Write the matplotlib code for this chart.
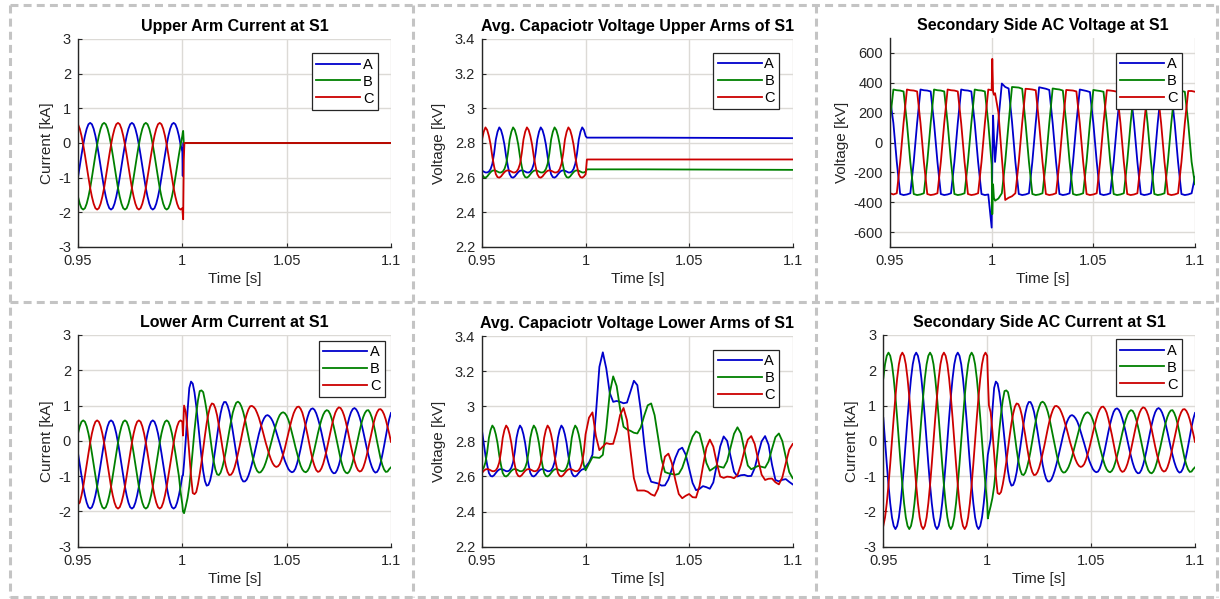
import numpy as np
import matplotlib
matplotlib.use("Agg")
import matplotlib.pyplot as plt
from matplotlib.lines import Line2D

plt.rcParams['font.family'] = ['Liberation Sans', 'DejaVu Sans']
plt.rcParams['axes.unicode_minus'] = False

# ---------------- sampling grids ----------------
t600 = np.linspace(0.95, 1.10, 91)     # 1/600 s steps, index 30 -> 1.0 s (fault)
t1200 = np.linspace(0.95, 1.10, 181)   # 1/1200 s steps, index 60 -> 1.0 s
PRE_FINE = t1200[:61]
PRE_COARSE = t600[:31]
POST_COARSE = t600[31:]
POST_MID = t1200[61::2]

PHASES = ['A', 'B', 'C']
COLORS = ['#0000cc', '#008000', '#cc0000']
X_TICKS = [0.95, 1.0, 1.05, 1.10]
X_TICKLABELS = ['0.95', '1', '1.05', '1.1']

# ---------------- Panel 1: Upper Arm Current [kA] (pre-fault on fine grid) ----------------
UA_A_PRE = [-0.99, -0.67, -0.35, -0.05, 0.21, 0.41, 0.54,
            0.58, 0.54, 0.41, 0.21, -0.05, -0.35, -0.67, -0.99, -1.30, -1.55, -1.75, -1.88,
            -1.92, -1.88, -1.75, -1.55, -1.30, -0.99, -0.67, -0.35, -0.05, 0.21, 0.41, 0.54,
            0.58, 0.54, 0.41, 0.21, -0.05, -0.35, -0.67, -0.99, -1.30, -1.55, -1.75, -1.88,
            -1.92, -1.88, -1.75, -1.55, -1.30, -0.99, -0.67, -0.35, -0.05, 0.21, 0.41, 0.54,
            0.58, 0.54, 0.41, 0.21, -0.05, -0.25]
UA_B_PRE = [-1.55, -1.75, -1.88, -1.92, -1.88, -1.75, -1.55, -1.30, -0.99,
            -0.67, -0.35, -0.05, 0.21, 0.41, 0.54,
            0.58, 0.54, 0.41, 0.21, -0.05, -0.35, -0.67, -0.99, -1.30, -1.55, -1.75, -1.88,
            -1.92, -1.88, -1.75, -1.55, -1.30, -0.99, -0.67, -0.35, -0.05, 0.21, 0.41, 0.54,
            0.58, 0.54, 0.41, 0.21, -0.05, -0.35, -0.67, -0.99, -1.30, -1.55, -1.75, -1.88,
            -1.92, -1.88, -1.75, -1.55, -1.30, -0.99, -0.67, -0.35, -0.05, 0.21]
UA_C_PRE = [0.54, 0.41, 0.21, -0.05, -0.35, -0.67, -0.99, -1.30, -1.55, -1.75, -1.88,
            -1.92, -1.88, -1.75, -1.55, -1.30, -0.99, -0.67, -0.35, -0.05, 0.21, 0.41, 0.54,
            0.58, 0.54, 0.41, 0.21, -0.05, -0.35, -0.67, -0.99, -1.30, -1.55, -1.75, -1.88,
            -1.92, -1.88, -1.75, -1.55, -1.30, -0.99, -0.67, -0.35, -0.05, 0.21, 0.41, 0.54,
            0.58, 0.54, 0.41, 0.21, -0.05, -0.35, -0.67, -0.99, -1.30, -1.55, -1.75, -1.88,
            -1.92, -1.88]
UA_TAIL_T = [1.0002, 1.0004, 1.0007, 1.0010, 1.10]
UA_A_TAIL = [-0.95, 0.0, 0.0, 0.0, 0.0]
UA_B_TAIL = [0.30, 0.35, 0.0, 0.0, 0.0]
UA_C_TAIL = [-2.05, -2.20, -0.50, 0.0, 0.0]

# ---------------- Panel 2: Avg. capacitor voltage, upper arms [kV] (fine grid) ----------------
UC_A_PRE = [2.64, 2.635, 2.63, 2.63, 2.635, 2.65, 2.68, 2.74, 2.82, 2.865,
            2.89, 2.875, 2.84, 2.79, 2.72, 2.665, 2.62, 2.603, 2.60, 2.607, 2.62, 2.632,
            2.64, 2.642, 2.64, 2.635, 2.63, 2.63, 2.635, 2.65, 2.68, 2.74, 2.82, 2.865,
            2.89, 2.875, 2.84, 2.79, 2.72, 2.665, 2.62, 2.603, 2.60, 2.607, 2.62, 2.632,
            2.64, 2.642, 2.64, 2.635, 2.63, 2.63, 2.635, 2.65, 2.68, 2.74, 2.82, 2.865,
            2.89, 2.875, 2.84]
UC_B_PRE = [2.62, 2.603, 2.60, 2.607, 2.62, 2.632, 2.64, 2.642, 2.64, 2.635, 2.63, 2.63,
            2.635, 2.65, 2.68, 2.74, 2.82, 2.865,
            2.89, 2.875, 2.84, 2.79, 2.72, 2.665, 2.62, 2.603, 2.60, 2.607, 2.62, 2.632,
            2.64, 2.642, 2.64, 2.635, 2.63, 2.63, 2.635, 2.65, 2.68, 2.74, 2.82, 2.865,
            2.89, 2.875, 2.84, 2.79, 2.72, 2.665, 2.62, 2.603, 2.60, 2.607, 2.62, 2.632,
            2.64, 2.642, 2.64, 2.635, 2.63, 2.63, 2.635]
UC_C_PRE = [2.82, 2.865,
            2.89, 2.875, 2.84, 2.79, 2.72, 2.665, 2.62, 2.603, 2.60, 2.607, 2.62, 2.632,
            2.64, 2.642, 2.64, 2.635, 2.63, 2.63, 2.635, 2.65, 2.68, 2.74, 2.82, 2.865,
            2.89, 2.875, 2.84, 2.79, 2.72, 2.665, 2.62, 2.603, 2.60, 2.607, 2.62, 2.632,
            2.64, 2.642, 2.64, 2.635, 2.63, 2.63, 2.635, 2.65, 2.68, 2.74, 2.82, 2.865,
            2.89, 2.875, 2.84, 2.79, 2.72, 2.665, 2.62, 2.603, 2.60, 2.607, 2.62]
UC_TAIL_T = [1.0006, 1.027, 1.10]
UC_A_TAIL = [2.831, 2.831, 2.828]
UC_B_TAIL = [2.648, 2.648, 2.645]
UC_C_TAIL = [2.705, 2.705, 2.705]

# ---------------- Panel 3: Secondary side AC voltage [kV] (coarse grid) ----------------
SV_EXTRA_T = [1.0003, 1.0007, 1.0011]
SV_A_PRE = [300, 130, -130, -345, -352, -348, -340, -130, 130, 355, 350, 348,
            342, 130, -130, -345, -352, -348, -340, -130, 130, 355, 350, 348,
            342, 130, -130, -345, -352, -348, -570]
SV_A_EXTRA = [-150, 180, 40]
SV_A_POST = [-130, 150, 395, 372, 362, 140, -130, -345, -352, -348, -340, -130,
             130, 370, 365, 360, 352, 130, -130, -345, -352, -348, -340, -130,
             130, 355, 350, 345, 338, 130, -130, -345, -352, -348, -340, -130,
             130, 350, 348, 345, 340, 130, -130, -345, -352, -348, -340, -130,
             130, 350, 348, 345, 340, 130, -130, -345, -352, -348, -340, -230]
SV_B_PRE = [150, 355, 350, 348, 342, 130, -130, -345, -352, -348, -340, -130,
            130, 355, 350, 348, 342, 130, -130, -345, -352, -348, -340, -130,
            130, 355, 350, 348, 342, 130, -150]
SV_B_EXTRA = [-480, -280, -370]
SV_B_POST = [-390, -375, -340, -130, 130, 372, 370, 368, 360, 130, -130, -345,
             -352, -348, -340, -130, 130, 362, 358, 355, 348, 130, -130, -345,
             -352, -348, -340, -130, 130, 352, 348, 345, 340, 130, -130, -345,
             -352, -348, -340, -130, 130, 350, 348, 345, 340, 130, -130, -345,
             -352, -348, -340, -130, 130, 350, 348, 345, 340, 130, -130, -280]
SV_C_PRE = [-340, -348, -340, -130, 130, 355, 350, 348, 342, 130, -130, -345,
            -352, -348, -340, -130, 130, 355, 350, 348, 342, 130, -130, -345,
            -352, -348, -340, -130, 130, 355, 350]
SV_C_EXTRA = [560, 340, 320]
SV_C_POST = [330, 200, -100, -385, -370, -360, -340, -130, 130, 360, 358, 355,
             350, 130, -130, -345, -352, -348, -340, -130, 130, 352, 350, 348,
             342, 130, -130, -345, -352, -348, -340, -130, 130, 350, 348, 345,
             340, 130, -130, -345, -352, -348, -340, -130, 130, 350, 348, 345,
             340, 130, -130, -345, -352, -348, -340, -130, 130, 345, 345, 340]

# ---------------- Panel 4: Lower Arm Current [kA] ----------------
LA_EXTRA_T = [1.0003]
LA_A_PRE = [-0.35, -0.67, -0.99, -1.30, -1.55, -1.75, -1.88, -1.92, -1.88, -1.75, -1.55,
            -1.30, -0.99, -0.67, -0.35, -0.05, 0.21, 0.41, 0.54,
            0.58, 0.54, 0.41, 0.21, -0.05, -0.35, -0.67, -0.99, -1.30, -1.55, -1.75, -1.88,
            -1.92, -1.88, -1.75, -1.55, -1.30, -0.99, -0.67, -0.35, -0.05, 0.21, 0.41, 0.54,
            0.58, 0.54, 0.41, 0.21, -0.05, -0.35, -0.67, -0.99, -1.30, -1.55, -1.75, -1.88,
            -1.92, -1.88, -1.75, -1.55, -1.30, -0.99]
LA_A_EXTRA = [-0.98]
LA_A_POST = [0.05, 1.50, 1.62, 0.99, 0.03, -0.86, -1.27, -1.12, -0.56, 0.14, 0.78, 1.10,
             1.00, 0.58, -0.04, -0.67, -1.07, -1.15, -0.99, -0.66, -0.24, 0.19, 0.53, 0.71,
             0.70, 0.55, 0.26, -0.07, -0.42, -0.69, -0.86, -0.87, -0.64, -0.23, 0.26, 0.67,
             0.90, 0.88, 0.63, 0.24, -0.22, -0.62, -0.87, -0.91, -0.69, -0.27, 0.23, 0.66,
             0.90, 0.89, 0.66, 0.27, -0.19, -0.59, -0.85, -0.88, -0.63, -0.15, 0.39, 0.79]
LA_A_POST_MID = [-0.62, 0.85, 1.68, 1.37, 0.53, -0.45, -1.14, -1.25, -0.89, -0.22, 0.49, 0.99,
                 1.10, 0.83, 0.28, -0.37, -0.90, -1.15, -1.10, -0.84, -0.46, -0.02, 0.37, 0.64,
                 0.73, 0.64, 0.42, 0.10, -0.25, -0.57, -0.80, -0.89, -0.79, -0.45, 0.02, 0.48,
                 0.82, 0.92, 0.78, 0.45, 0.01, -0.43, -0.77, -0.92, -0.83, -0.50, -0.02, 0.46,
                 0.81, 0.93, 0.80, 0.48, 0.04, -0.40, -0.74, -0.90, -0.79, -0.40, 0.12, 0.62]
LA_B_PRE = [0.21, 0.41, 0.54,
            0.58, 0.54, 0.41, 0.21, -0.05, -0.35, -0.67, -0.99, -1.30, -1.55, -1.75, -1.88,
            -1.92, -1.88, -1.75, -1.55, -1.30, -0.99, -0.67, -0.35, -0.05, 0.21, 0.41, 0.54,
            0.58, 0.54, 0.41, 0.21, -0.05, -0.35, -0.67, -0.99, -1.30, -1.55, -1.75, -1.88,
            -1.92, -1.88, -1.75, -1.55, -1.30, -0.99, -0.67, -0.35, -0.05, 0.21, 0.41, 0.54,
            0.58, 0.54, 0.41, 0.21, -0.05, -0.35, -0.67, -0.99, -1.45, -1.80]
LA_B_EXTRA = [-2.00]
LA_B_POST = [-1.85, -1.29, -0.24, 0.77, 1.41, 1.38, 0.85, 0.12, -0.57, -0.95, -0.90, -0.55,
             -0.01, 0.55, 0.96, 1.11, 0.97, 0.62, 0.13, -0.36, -0.74, -0.90, -0.83, -0.61,
             -0.26, 0.13, 0.48, 0.73, 0.81, 0.71, 0.43, 0.04, -0.36, -0.70, -0.87, -0.85,
             -0.61, -0.23, 0.22, 0.60, 0.83, 0.85, 0.61, 0.20, -0.28, -0.69, -0.90, -0.87,
             -0.60, -0.17, 0.29, 0.67, 0.86, 0.79, 0.47, -0.02, -0.50, -0.81, -0.87, -0.75]
LA_B_POST_MID = [-2.05, -1.62, -0.80, 0.30, 1.15, 1.43, 1.14, 0.50, -0.25, -0.81, -0.97, -0.75,
                 -0.30, 0.28, 0.80, 1.08, 1.07, 0.82, 0.38, -0.12, -0.58, -0.85, -0.89, -0.74,
                 -0.45, -0.07, 0.31, 0.62, 0.79, 0.78, 0.59, 0.24, -0.17, -0.54, -0.81, -0.89,
                 -0.76, -0.43, 0.00, 0.42, 0.74, 0.87, 0.76, 0.42, -0.04, -0.51, -0.83, -0.92,
                 -0.76, -0.39, 0.06, 0.50, 0.79, 0.87, 0.66, 0.24, -0.26, -0.68, -0.88, -0.80]
LA_C_PRE = [-1.80, -1.75, -1.55, -1.30, -0.99, -0.67, -0.35, -0.05, 0.21, 0.41, 0.54,
            0.58, 0.54, 0.41, 0.21, -0.05, -0.35, -0.67, -0.99, -1.30, -1.55, -1.75, -1.88,
            -1.92, -1.88, -1.75, -1.55, -1.30, -0.99, -0.67, -0.35, -0.05, 0.21, 0.41, 0.54,
            0.58, 0.54, 0.41, 0.21, -0.05, -0.35, -0.67, -0.99, -1.30, -1.55, -1.75, -1.88,
            -1.92, -1.88, -1.75, -1.55, -1.30, -0.99, -0.67, -0.35, -0.05, 0.21, 0.41, 0.54,
            0.58, 0.54]
LA_C_EXTRA = [0.15]
LA_C_POST = [0.81, -0.37, -1.48, -1.45, -0.94, -0.22, 0.50, 0.97, 1.04, 0.72, 0.15, -0.46,
             -0.88, -0.96, -0.76, -0.36, 0.11, 0.57, 0.89, 0.99, 0.90, 0.66, 0.32, -0.06,
             -0.39, -0.64, -0.74, -0.66, -0.38, 0.01, 0.43, 0.78, 0.96, 0.91, 0.62, 0.17,
             -0.33, -0.71, -0.88, -0.78, -0.47, -0.02, 0.44, 0.80, 0.95, 0.85, 0.54, 0.08,
             -0.38, -0.73, -0.87, -0.76, -0.42, 0.04, 0.50, 0.81, 0.90, 0.75, 0.40, -0.03]
LA_C_POST_MID = [1.00, 0.28, -1.00, -1.51, -1.23, -0.61, 0.15, 0.77, 1.06, 0.92, 0.44, -0.17,
                 -0.71, -0.97, -0.89, -0.58, -0.14, 0.35, 0.75, 0.98, 0.96, 0.79, 0.49, 0.13,
                 -0.23, -0.53, -0.71, -0.72, -0.54, -0.20, 0.23, 0.62, 0.89, 0.97, 0.80, 0.40,
                 -0.08, -0.55, -0.83, -0.86, -0.65, -0.26, 0.21, 0.64, 0.90, 0.93, 0.72, 0.32,
                 -0.16, -0.57, -0.83, -0.85, -0.61, -0.19, 0.28, 0.68, 0.89, 0.85, 0.60, 0.20]

# ---------------- Panel 5: Avg. capacitor voltage, lower arms [kV] ----------------
LC_A_PRE = [2.86, 2.79, 2.72, 2.665, 2.62, 2.603, 2.60, 2.607, 2.62, 2.632, 2.64, 2.642,
            2.64, 2.635, 2.63, 2.63, 2.635, 2.65, 2.68, 2.74, 2.82, 2.865,
            2.89, 2.875, 2.84, 2.79, 2.72, 2.665, 2.62, 2.603, 2.60, 2.607, 2.62, 2.632,
            2.64, 2.642, 2.64, 2.635, 2.63, 2.63, 2.635, 2.65, 2.68, 2.74, 2.82, 2.865,
            2.89, 2.875, 2.84, 2.79, 2.72, 2.665, 2.62, 2.603, 2.60, 2.607, 2.62, 2.632,
            2.64, 2.642, 2.655]
LC_A_POST = [2.68, 2.724, 2.957, 3.224, 3.307, 3.215, 3.076, 3.025, 3.03, 3.025, 3.017, 3.021,
             3.083, 3.145, 3.12, 2.976, 2.785, 2.625, 2.57, 2.565, 2.56, 2.548, 2.549, 2.583,
             2.642, 2.706, 2.752, 2.764, 2.725, 2.645, 2.563, 2.522, 2.529, 2.545, 2.539, 2.53,
             2.566, 2.665, 2.771, 2.828, 2.803, 2.715, 2.627, 2.60, 2.607, 2.609, 2.602, 2.603,
             2.648, 2.727, 2.80, 2.83, 2.781, 2.668, 2.58, 2.572, 2.581, 2.585, 2.569, 2.555]
LC_B_PRE = [2.635, 2.65, 2.68, 2.74, 2.82, 2.865,
            2.89, 2.875, 2.84, 2.79, 2.72, 2.665, 2.62, 2.603, 2.60, 2.607, 2.62, 2.632,
            2.64, 2.642, 2.64, 2.635, 2.63, 2.63, 2.635, 2.65, 2.68, 2.74, 2.82, 2.865,
            2.89, 2.875, 2.84, 2.79, 2.72, 2.665, 2.62, 2.603, 2.60, 2.607, 2.62, 2.632,
            2.64, 2.642, 2.64, 2.635, 2.63, 2.63, 2.635, 2.65, 2.68, 2.74, 2.82, 2.865,
            2.89, 2.875, 2.84, 2.79, 2.72, 2.665, 2.635]
LC_B_POST = [2.673, 2.71, 2.708, 2.706, 2.723, 2.875, 3.075, 3.17, 3.115, 2.986, 2.883, 2.868,
             2.86, 2.849, 2.845, 2.88, 2.947, 3.005, 3.016, 2.949, 2.824, 2.698, 2.625, 2.618,
             2.614, 2.61, 2.615, 2.649, 2.707, 2.772, 2.827, 2.857, 2.845, 2.769, 2.677, 2.633,
             2.646, 2.66, 2.655, 2.65, 2.687, 2.765, 2.843, 2.88, 2.845, 2.75, 2.662, 2.641,
             2.651, 2.66, 2.655, 2.65, 2.685, 2.757, 2.824, 2.845, 2.801, 2.711, 2.625, 2.59]
LC_C_PRE = [2.62, 2.632, 2.64, 2.642, 2.64, 2.635, 2.63, 2.63, 2.635, 2.65, 2.68, 2.74, 2.82, 2.865,
            2.89, 2.875, 2.84, 2.79, 2.72, 2.665, 2.62, 2.603, 2.60, 2.607, 2.62, 2.632,
            2.64, 2.642, 2.64, 2.635, 2.63, 2.63, 2.635, 2.65, 2.68, 2.74, 2.82, 2.865,
            2.89, 2.875, 2.84, 2.79, 2.72, 2.665, 2.62, 2.603, 2.60, 2.607, 2.62, 2.632,
            2.64, 2.642, 2.64, 2.635, 2.63, 2.63, 2.635, 2.65, 2.68, 2.74, 2.84]
LC_C_POST = [2.935, 2.965, 2.83, 2.75, 2.77, 2.79, 2.785, 2.786, 2.856, 2.95, 2.99, 2.92,
             2.75, 2.59, 2.52, 2.52, 2.52, 2.513, 2.498, 2.49, 2.53, 2.627, 2.713, 2.73,
             2.676, 2.58, 2.50, 2.476, 2.49, 2.50, 2.482, 2.48, 2.545, 2.658, 2.764, 2.81,
             2.77, 2.677, 2.60, 2.592, 2.599, 2.597, 2.59, 2.607, 2.667, 2.746, 2.81, 2.83,
             2.785, 2.694, 2.61, 2.58, 2.587, 2.588, 2.567, 2.555, 2.595, 2.676, 2.753, 2.785]

# ---------------- Panel 6: Secondary side AC current [kA] ----------------
SC_EXTRA_T = [1.0003]
SC_A_PRE = [0.65, 0.00, -0.65, -1.25, -1.77, -2.17, -2.41, -2.50, -2.41, -2.17, -1.77, -1.25,
            -0.65, 0.00, 0.65, 1.25, 1.77, 2.17, 2.41,
            2.50, 2.41, 2.17, 1.77, 1.25, 0.65, 0.00, -0.65, -1.25, -1.77, -2.17, -2.41,
            -2.50, -2.41, -2.17, -1.77, -1.25, -0.65, 0.00, 0.65, 1.25, 1.77, 2.17, 2.41,
            2.50, 2.41, 2.17, 1.77, 1.25, 0.65, 0.00, -0.65, -1.25, -1.77, -2.17, -2.41,
            -2.50, -2.41, -2.17, -1.77, -1.25, -0.65]
SC_A_EXTRA = [-0.40]
SC_B_PRE = [1.77, 2.17, 2.41,
            2.50, 2.41, 2.17, 1.77, 1.25, 0.65, 0.00, -0.65, -1.25, -1.77, -2.17, -2.41,
            -2.50, -2.41, -2.17, -1.77, -1.25, -0.65, 0.00, 0.65, 1.25, 1.77, 2.17, 2.41,
            2.50, 2.41, 2.17, 1.77, 1.25, 0.65, 0.00, -0.65, -1.25, -1.77, -2.17, -2.41,
            -2.50, -2.41, -2.17, -1.77, -1.25, -0.65, 0.00, 0.65, 1.25, 1.77, 2.17, 2.41,
            2.50, 2.41, 2.17, 1.77, 1.25, 0.65, 0.00, -0.65, -1.25, -1.77]
SC_B_EXTRA = [-2.20]
SC_C_PRE = [-2.41, -2.17, -1.77, -1.25, -0.65, 0.00, 0.65, 1.25, 1.77, 2.17, 2.41,
            2.50, 2.41, 2.17, 1.77, 1.25, 0.65, 0.00, -0.65, -1.25, -1.77, -2.17, -2.41,
            -2.50, -2.41, -2.17, -1.77, -1.25, -0.65, 0.00, 0.65, 1.25, 1.77, 2.17, 2.41,
            2.50, 2.41, 2.17, 1.77, 1.25, 0.65, 0.00, -0.65, -1.25, -1.77, -2.17, -2.41,
            -2.50, -2.41, -2.17, -1.77, -1.25, -0.65, 0.00, 0.65, 1.25, 1.77, 2.17, 2.41,
            2.50, 2.41]
SC_C_EXTRA = [1.80]
# after the fault the secondary current equals the lower-arm current (upper arms blocked);
# only the first blue mid-sample differs (small notch instead of the arm-current step)
SC_A_POST, SC_B_POST, SC_C_POST = LA_A_POST, LA_B_POST, LA_C_POST
SC_A_POST_MID = [-0.22] + LA_A_POST_MID[1:]
SC_B_POST_MID, SC_C_POST_MID = LA_B_POST_MID, LA_C_POST_MID


def assemble(*parts):
    tt = np.concatenate([np.asarray(a, float) for a, _ in parts])
    vv = np.concatenate([np.asarray(b, float) for _, b in parts])
    order = np.argsort(tt, kind='stable')
    return tt[order], vv[order]


W, H = 1220, 599
fig = plt.figure(figsize=(W / 100, H / 100), dpi=100)
fig.patch.set_facecolor('white')

TXT = '#262626'
GRID = '#dcdad6'


def make_axes(x0, y0, x1, y1):
    return fig.add_axes([x0 / W, 1 - y1 / H, (x1 - x0) / W, (y1 - y0) / H])


def style(ax, title, ylabel, ylim, yticks, yticklabels, leg_anchor, ylabelpad=3):
    ax.set_xlim(0.95, 1.10)
    ax.set_ylim(*ylim)
    ax.set_xticks(X_TICKS)
    ax.set_xticklabels(X_TICKLABELS)
    ax.set_yticks(yticks)
    ax.set_yticklabels(yticklabels)
    ax.grid(True, color=GRID, lw=1.0)
    ax.set_axisbelow(True)
    for s in ['top', 'right']:
        ax.spines[s].set_visible(False)
    for s in ['left', 'bottom']:
        ax.spines[s].set_color(TXT)
        ax.spines[s].set_linewidth(1.0)
    ax.tick_params(direction='in', length=3, width=0.8, colors=TXT, labelsize=10.5, pad=5)
    ax.set_title(title, fontsize=11.5, fontweight='bold', pad=6, color='black')
    ax.set_xlabel('Time [s]', fontsize=11, color=TXT, labelpad=3)
    ax.set_ylabel(ylabel, fontsize=11, color=TXT, labelpad=ylabelpad)
    leg = ax.legend(loc='upper right', bbox_to_anchor=leg_anchor, fontsize=10.5,
                    frameon=True, fancybox=False, edgecolor=TXT, framealpha=1,
                    handlelength=3.0, handletextpad=0.2, borderpad=0.3,
                    labelspacing=0.2, borderaxespad=0)
    leg.get_frame().set_linewidth(0.9)


def draw(ax, data):
    for (tt, vv), c, lab in zip(data, COLORS, PHASES):
        ax.plot(tt, vv, color=c, lw=1.3, label=lab, solid_joinstyle='round')


I_TICKS = [-3, -2, -1, 0, 1, 2, 3]
I_LABELS = ['-3', '-2', '-1', '0', '1', '2', '3']
V_TICKS = [2.2, 2.4, 2.6, 2.8, 3.0, 3.2, 3.4]
V_LABELS = ['2.2', '2.4', '2.6', '2.8', '3', '3.2', '3.4']
S_TICKS = [-600, -400, -200, 0, 200, 400, 600]
S_LABELS = ['-600', '-400', '-200', '0', '200', '400', '600']

# Panel 1
ax = make_axes(78, 39, 391, 247)
draw(ax, [assemble((PRE_FINE, UA_A_PRE), (UA_TAIL_T, UA_A_TAIL)),
          assemble((PRE_FINE, UA_B_PRE), (UA_TAIL_T, UA_B_TAIL)),
          assemble((PRE_FINE, UA_C_PRE), (UA_TAIL_T, UA_C_TAIL))])
style(ax, 'Upper Arm Current at S1', 'Current [kA]', (-3, 3), I_TICKS, I_LABELS,
      (1 - 13.3 / 313, 1 - 14.3 / 208))

# Panel 2
ax = make_axes(482, 39, 793, 247)
draw(ax, [assemble((PRE_FINE, UC_A_PRE), (UC_TAIL_T, UC_A_TAIL)),
          assemble((PRE_FINE, UC_B_PRE), (UC_TAIL_T, UC_B_TAIL)),
          assemble((PRE_FINE, UC_C_PRE), (UC_TAIL_T, UC_C_TAIL))])
style(ax, 'Avg. Capaciotr Voltage Upper Arms of S1', 'Voltage [kV]', (2.2, 3.4), V_TICKS, V_LABELS,
      (1 - 13.7 / 311, 1 - 13.7 / 208), ylabelpad=6)

# Panel 3
ax = make_axes(890, 38, 1195, 247)
draw(ax, [assemble((PRE_COARSE, SV_A_PRE), (SV_EXTRA_T, SV_A_EXTRA), (POST_COARSE, SV_A_POST)),
          assemble((PRE_COARSE, SV_B_PRE), (SV_EXTRA_T, SV_B_EXTRA), (POST_COARSE, SV_B_POST)),
          assemble((PRE_COARSE, SV_C_PRE), (SV_EXTRA_T, SV_C_EXTRA), (POST_COARSE, SV_C_POST))])
style(ax, 'Secondary Side AC Voltage at S1', 'Voltage [kV]', (-700, 700), S_TICKS, S_LABELS,
      (1 - 13.3 / 305, 1 - 14.7 / 209))

# Panel 4
ax = make_axes(78, 335, 391, 546.7)
draw(ax, [assemble((PRE_FINE, LA_A_PRE), (LA_EXTRA_T, LA_A_EXTRA), (POST_COARSE, LA_A_POST), (POST_MID, LA_A_POST_MID)),
          assemble((PRE_FINE, LA_B_PRE), (LA_EXTRA_T, LA_B_EXTRA), (POST_COARSE, LA_B_POST), (POST_MID, LA_B_POST_MID)),
          assemble((PRE_FINE, LA_C_PRE), (LA_EXTRA_T, LA_C_EXTRA), (POST_COARSE, LA_C_POST), (POST_MID, LA_C_POST_MID))])
style(ax, 'Lower Arm Current at S1', 'Current [kA]', (-3, 3), I_TICKS, I_LABELS,
      (1 - 6 / 313, 1 - 5.7 / 211.7))

# Panel 5
ax = make_axes(482, 336, 792.7, 546.7)
draw(ax, [assemble((PRE_FINE, LC_A_PRE), (POST_COARSE, LC_A_POST)),
          assemble((PRE_FINE, LC_B_PRE), (POST_COARSE, LC_B_POST)),
          assemble((PRE_FINE, LC_C_PRE), (POST_COARSE, LC_C_POST))])
style(ax, 'Avg. Capaciotr Voltage Lower Arms of S1', 'Voltage [kV]', (2.2, 3.4), V_TICKS, V_LABELS,
      (1 - 13.4 / 310.7, 1 - 14 / 210.7), ylabelpad=6)

# Panel 6
ax = make_axes(883.3, 335, 1195, 546.7)
draw(ax, [assemble((PRE_FINE, SC_A_PRE), (SC_EXTRA_T, SC_A_EXTRA), (POST_COARSE, SC_A_POST), (POST_MID, SC_A_POST_MID)),
          assemble((PRE_FINE, SC_B_PRE), (SC_EXTRA_T, SC_B_EXTRA), (POST_COARSE, SC_B_POST), (POST_MID, SC_B_POST_MID)),
          assemble((PRE_FINE, SC_C_PRE), (SC_EXTRA_T, SC_C_EXTRA), (POST_COARSE, SC_C_POST), (POST_MID, SC_C_POST_MID))])
style(ax, 'Secondary Side AC Current at S1', 'Current [kA]', (-3, 3), I_TICKS, I_LABELS,
      (1 - 13.3 / 311.7, 1 - 4.3 / 211.7))

# dashed panel frames
FRAME_KW = dict(color='#c4c4c4', lw=2.2, linestyle=(0, (2.6, 1.7)))


def fline(x0, y0, x1, y1):
    fig.add_artist(Line2D([x0 / W, x1 / W], [1 - y0 / H, 1 - y1 / H],
                          transform=fig.transFigure, **FRAME_KW))


fline(10, 5, 1217, 5)
fline(10, 597, 1217, 597)
fline(10, 302, 1217, 302)
fline(10, 5, 10, 597)
fline(1217, 5, 1217, 597)
fline(413, 5, 413, 597)
fline(816, 5, 816, 597)

fig.savefig('out.png', dpi=100, facecolor='white')
